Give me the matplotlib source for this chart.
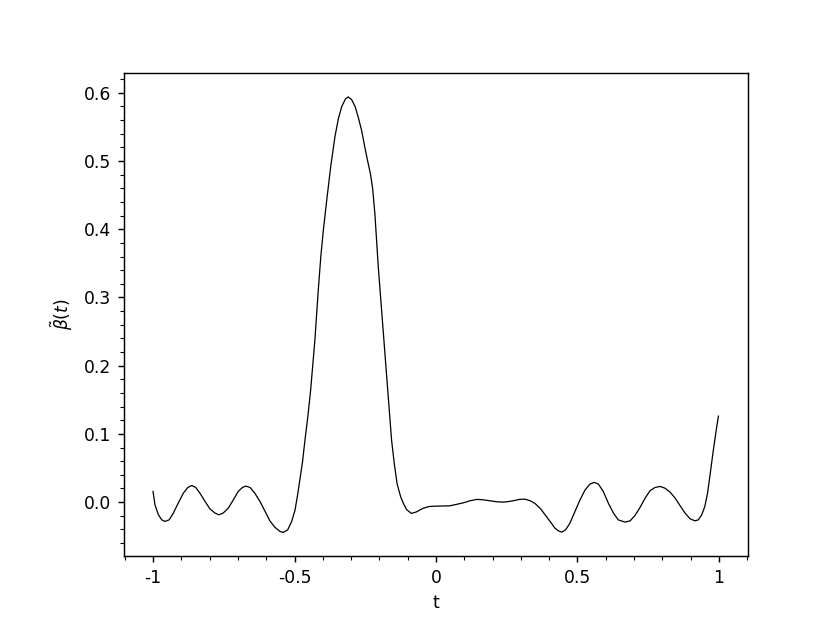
import matplotlib
matplotlib.use("Agg")
import matplotlib.pyplot as plt
from matplotlib.ticker import FixedLocator, MultipleLocator

plt.rcParams["axes.unicode_minus"] = False

# values
t_vals = [
    -1.000, -0.993, -0.981, -0.969, -0.958, -0.943, -0.928, -0.911, -0.893, -0.877,
    -0.863, -0.849, -0.834, -0.816, -0.799, -0.781, -0.767, -0.752, -0.734, -0.716,
    -0.699, -0.684, -0.672, -0.657, -0.640, -0.622, -0.604, -0.587, -0.569, -0.551,
    -0.540, -0.524, -0.510, -0.498, -0.489, -0.481, -0.472, -0.463, -0.453, -0.443,
    -0.428, -0.416, -0.407, -0.398, -0.386, -0.372, -0.357, -0.345, -0.333, -0.320,
    -0.310, -0.298, -0.286, -0.274, -0.263, -0.250, -0.240, -0.232, -0.224, -0.216,
    -0.210, -0.204, -0.195, -0.184, -0.171, -0.157, -0.147, -0.137, -0.125, -0.115,
    -0.104, -0.087, -0.070, -0.055, -0.045, -0.025, -0.009, 0.020, 0.049, 0.075,
    0.097, 0.120, 0.144, 0.165, 0.191, 0.215, 0.238, 0.255, 0.273, 0.295,
    0.314, 0.333, 0.350, 0.370, 0.391, 0.408, 0.420, 0.432, 0.444, 0.458,
    0.473, 0.491, 0.509, 0.527, 0.544, 0.559, 0.574, 0.591, 0.609, 0.627,
    0.644, 0.668, 0.686, 0.703, 0.721, 0.739, 0.756, 0.774, 0.792, 0.809,
    0.827, 0.845, 0.862, 0.880, 0.898, 0.915, 0.927, 0.939, 0.950, 0.960,
    0.970, 0.980, 0.990, 0.998,
]
beta_vals = [
    0.0157, -0.004, -0.0186, -0.026, -0.0283, -0.026, -0.016, -0.0015, 0.013, 0.0215,
    0.0244, 0.0215, 0.013, 0.001, -0.0098, -0.016, -0.0186, -0.016, -0.0088, 0.0034,
    0.0157, 0.0215, 0.0235, 0.0215, 0.013, 0.001, -0.0137, -0.0274, -0.037, -0.043,
    -0.0445, -0.0406, -0.0283, -0.0113, 0.0107, 0.033, 0.058, 0.091, 0.125, 0.164,
    0.2375, 0.311, 0.360, 0.399, 0.443, 0.492, 0.536, 0.562, 0.580, 0.591,
    0.594, 0.590, 0.580, 0.563, 0.545, 0.517, 0.497, 0.482, 0.460, 0.423,
    0.385, 0.345, 0.296, 0.2375, 0.164, 0.091, 0.055, 0.026, 0.008, -0.002,
    -0.011, -0.0165, -0.0145, -0.011, -0.009, -0.0065, -0.006, -0.0057, -0.0054, -0.003,
    -0.001, 0.002, 0.004, 0.0035, 0.002, 0.0005, 0.000, 0.0008, 0.002, 0.004,
    0.0044, 0.002, -0.002, -0.010, -0.0215, -0.031, -0.038, -0.042, -0.044, -0.0406,
    -0.031, -0.0137, 0.0034, 0.018, 0.0264, 0.0289, 0.0264, 0.0157, -0.0015, -0.016,
    -0.026, -0.0293, -0.0274, -0.0196, -0.0078, 0.0059, 0.0166, 0.0215, 0.023, 0.0205,
    0.0147, 0.0059, -0.0049, -0.016, -0.0245, -0.0274, -0.026, -0.0186, -0.0063, 0.014,
    0.045, 0.076, 0.105, 0.126,
]

x_ticks = [-1, -0.5, 0, 0.5, 1]
x_labels = ["-1", "-0.5", "0", "0.5", "1"]
y_ticks = [0.0, 0.1, 0.2, 0.3, 0.4, 0.5, 0.6]
y_labels = ["0.0", "0.1", "0.2", "0.3", "0.4", "0.5", "0.6"]

fig = plt.figure(figsize=(830 / 130, 623 / 130), dpi=130)
ax = fig.add_axes([0.1494, 0.1075, 0.7518, 0.7753])

ax.plot(t_vals, beta_vals, color="black", linewidth=0.7)

ax.xaxis.set_major_locator(FixedLocator(x_ticks))
ax.set_xticklabels(x_labels)
ax.xaxis.set_minor_locator(MultipleLocator(0.1))
ax.yaxis.set_major_locator(FixedLocator(y_ticks))
ax.set_yticklabels(y_labels)
ax.yaxis.set_minor_locator(MultipleLocator(0.02))
ax.tick_params(labelsize=9.5)

ax.set_xlim(-1.1025, 1.1025)
ax.set_ylim(-0.079, 0.629)

ax.set_xlabel("t", fontsize=9.5)
ax.set_ylabel(r"$\tilde{\beta}(t)$", fontsize=9.5, labelpad=5)

fig.savefig("out.png", dpi=130)
